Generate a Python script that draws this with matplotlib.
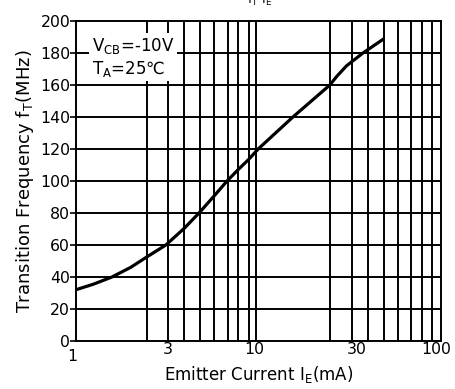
import numpy as np
import matplotlib
matplotlib.use("Agg")
import matplotlib.pyplot as plt

ie_ma = [1.0, 1.25, 1.58, 2.0, 2.45, 3.12, 3.94, 4.74, 5.72, 6.75, 7.75, 8.87,
         10.0, 15.5, 24.7, 27.0, 30.5, 37.5, 49.0]
ft_mhz = [32, 35.5, 40, 46, 52.5, 60, 70.5, 80, 90.5, 100, 107, 113.5,
          120, 140, 160, 165.5, 172, 180, 189]

# grille verticale (positions de la fiche, pas tout a fait logarithmiques)
grid_x = [2.45, 3.19, 3.94, 4.80, 5.72, 6.81, 7.75, 8.87, 9.73,
          24.7, 32.5, 40.1, 49.1, 58.1, 68.8, 78.7, 89.9]
grid_y = [20, 40, 60, 80, 100, 120, 140, 160, 180]

xtick_pos = [3.2, 9.5, 34.7, 95]
xtick_lab = ["3", "10", "30", "100"]
ytick_pos = list(range(0, 201, 20))

plt.rcParams['font.family'] = ['DejaVu Sans']

fig = plt.figure(figsize=(4.56, 3.89), dpi=100)
ax = fig.add_axes([0.166, 0.1234, 0.8004, 0.8226])
ax.set_xscale('log')
ax.set_xlim(1, 100)
ax.set_ylim(0, 200)

for gx in grid_x:
    ax.axvline(gx, color='black', lw=1.4, zorder=1)
for gy in grid_y:
    ax.axhline(gy, color='black', lw=1.4, zorder=1)

ax.plot(ie_ma, ft_mhz, color='black', lw=2.3, zorder=3, solid_capstyle='butt',
        solid_joinstyle='round')

for s in ax.spines.values():
    s.set_linewidth(1.4)

ax.xaxis.set_minor_locator(matplotlib.ticker.NullLocator())
ax.set_xticks(xtick_pos)
ax.set_xticklabels(xtick_lab)
ax.tick_params(axis='x', length=0, pad=0.5, labelsize=11.3)
ax.set_yticks(ytick_pos)
ax.tick_params(axis='y', length=4, width=1.2, pad=0, labelsize=11.3, direction='out')
ax.text(0.955, -0.025, "1", transform=ax.get_xaxis_transform(), ha='center', va='top',
        fontsize=11.3)

ax.set_xlabel(r"Emitter Current I$_\mathregular{E}$(mA)", fontsize=12, labelpad=5)
ax.set_ylabel(r"Transition Frequency f$_\mathregular{T}$(MHz)", fontsize=13, labelpad=3)

ax.text(0.045, 0.8875, "V$_\\mathregular{CB}$=-10V\nT$_\\mathregular{A}$=25\u2103",
        transform=ax.transAxes, fontsize=12, ha='left', va='center', linespacing=1.2,
        zorder=4, bbox=dict(facecolor='white', edgecolor='none', pad=2))

fig.text(0.57, 0.99, r"f$_\mathregular{T}$-I$_\mathregular{E}$", ha='center', va='baseline', fontsize=9)

fig.savefig("out.png", dpi=100)
